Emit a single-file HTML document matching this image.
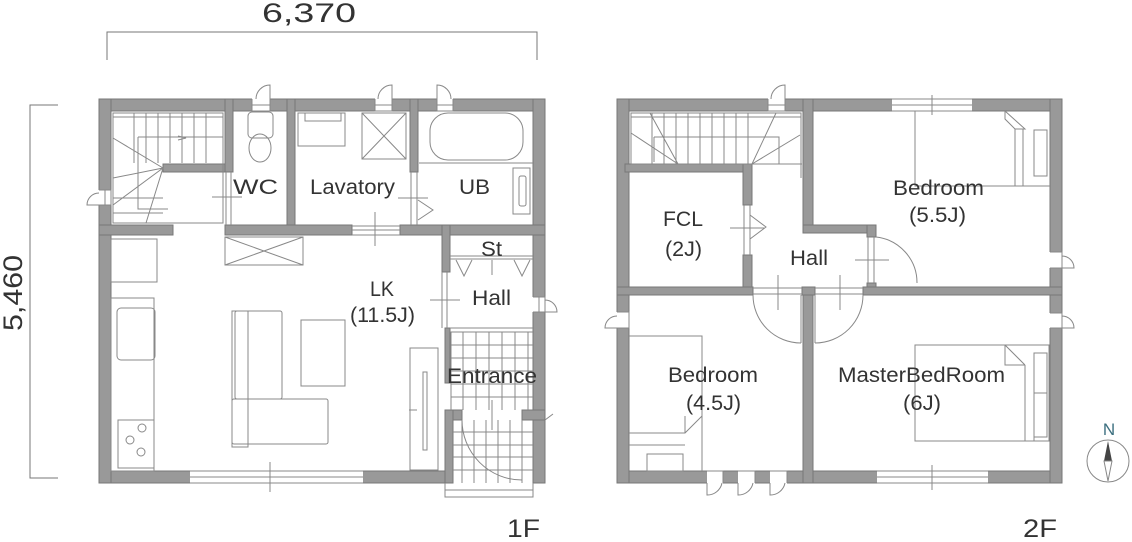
<!DOCTYPE html>
<html><head><meta charset="utf-8"><style>
html,body{margin:0;padding:0;background:#fff;}
svg{display:block;}
text{font-family:"Liberation Sans",sans-serif;fill:#333;}
</style></head><body>
<svg width="1132" height="542" viewBox="0 0 1132 542" xmlns="http://www.w3.org/2000/svg">
<g stroke="#777" stroke-width="1" fill="none">
  <polyline points="107,60 107,32 537,32 537,60"/>
  <polyline points="58,105 30,105 30,478 58,478"/>
</g>
<text x="262" y="22" font-size="27" textLength="94" lengthAdjust="spacingAndGlyphs">6,370</text>
<text x="0" y="0" font-size="27" textLength="76" lengthAdjust="spacingAndGlyphs" transform="translate(22 331) rotate(-90)">5,460</text>
<text x="507" y="537" font-size="25" textLength="33" lengthAdjust="spacingAndGlyphs">1F</text>
<text x="1023" y="537" font-size="25" textLength="34" lengthAdjust="spacingAndGlyphs">2F</text>

<!-- ========== 1F ========== -->
<g fill="#999" stroke="#777" stroke-width="1">
  <rect x="99" y="99" width="446" height="12"/>
  <rect x="99" y="471" width="354" height="12"/>
  <rect x="99" y="99" width="12" height="384"/>
  <rect x="533" y="99" width="12" height="384"/>
  <rect x="163" y="164" width="70" height="8"/>
  <rect x="225" y="99" width="8" height="73"/>
  <rect x="287" y="99" width="8" height="136"/>
  <rect x="410" y="99" width="8" height="73"/>
  <rect x="225" y="225" width="127" height="10"/>
  <rect x="400" y="225" width="145" height="10"/>
  <rect x="99" y="225" width="74" height="10"/>
  <rect x="442" y="225" width="8" height="47"/>
  <rect x="445" y="328" width="5" height="55"/>
  <rect x="445" y="410" width="17" height="10"/>
  <rect x="522" y="410" width="23" height="10"/>
  <rect x="445" y="410" width="8" height="73"/>
</g>
<g fill="#fff" stroke="none">
  <rect x="252" y="98" width="18" height="14"/>
  <rect x="375" y="98" width="17" height="14"/>
  <rect x="437" y="98" width="16" height="14"/>
  <rect x="98" y="190" width="14" height="15"/>
  <rect x="532" y="297" width="14" height="15"/>
  <rect x="190" y="470" width="173" height="14"/>
</g>
<g fill="none" stroke="#888" stroke-width="1">
  <path d="M252,99 v12 h18 v-12 M252,105 h18 M270,99 v-14 a14,14 0 0 0 -14,14"/>
  <path d="M375,99 v12 h17 v-12 M375,105 h17 M392,99 v-14 a14,14 0 0 0 -14,14"/>
  <path d="M437,99 v12 h16 v-12 M437,105 h16 M437,99 v-14 a14,14 0 0 1 14,14"/>
  <path d="M99,190 h12 v15 h-12 M105,190 v15 M99,205 h-12 a12,12 0 0 1 12,-12"/>
  <path d="M533,297 h12 v15 h-12 M539,297 v15 M545,312 h12 a12,12 0 0 0 -12,-12"/>
  <path d="M545,420 l8,-6"/>
  <path d="M190,471 h173 M190,477 h173 M190,483 h173"/>
  <path d="M352,226 h48 M352,230 h48 M352,235 h48"/>
  <path d="M226,172 v53 M231,172 v53 M411,172 v53 M417,172 v53 M442,272 v56 M447,272 v56"/>
  <rect x="113" y="113" width="110" height="110"/>
  <path d="M113,117 h110 M134,113 v50 M146,113 v50 M158,113 v50 M170,113 v50 M182,113 v50 M194,113 v50 M206,113 v50 M138,137 h85 M138,137 v72 h30 M113,138 L163,168 M113,178 L163,168 M113,205 L163,168 M146,223 L163,168 M113,198 h50 M113,213 h50 M178,136 l8,2 l-8,2"/>
  <rect x="248" y="112" width="25" height="26" rx="4"/>
  <ellipse cx="260" cy="148" rx="11" ry="14"/>
  <rect x="298" y="113" width="47" height="33"/>
  <path d="M305,113 v8 h36 v-8"/>
  <rect x="362" y="113" width="44" height="46"/>
  <path d="M362,113 L406,159 M406,113 L362,159"/>
  <rect x="430" y="113" width="93" height="47" rx="18"/>
  <path d="M419,163 h114"/>
  <rect x="513" y="168" width="17" height="46"/>
  <rect x="519" y="176" width="7" height="30" rx="2"/>
  <path d="M418,200 l15,10 l-15,10"/>
  <path d="M212,197 h30 M398,198 h30 M375,212 v34 M270,462 v30"/>
  <rect x="225" y="237" width="78" height="28"/>
  <path d="M225,237 L303,265 M303,237 L225,265"/>
  <rect x="111" y="239" width="46" height="43"/>
  <rect x="111" y="298" width="43" height="173"/>
  <rect x="117" y="308" width="38" height="52" rx="4"/>
  <rect x="118" y="420" width="36" height="48"/>
  <circle cx="142" cy="428" r="4"/><circle cx="130" cy="440" r="4"/><circle cx="141" cy="452" r="4"/>
  <rect x="232" y="311" width="16" height="136"/>
  <rect x="235" y="311" width="47" height="88" rx="2"/>
  <rect x="232" y="399" width="96" height="45" rx="2"/>
  <rect x="301" y="320" width="44" height="66"/>
  <rect x="410" y="348" width="28" height="122"/>
  <rect x="423" y="372" width="4" height="78"/>
  <path d="M417,410 h-8 M430,300 h30"/>
  <path d="M450,256 h83 M450,259 h83 M450,328 h83 M450,332 h83"/>
  <path d="M456,260 l8,16 l8,-16 M514,260 l8,16 l8,-16 M492,260 v15 M492,400 v30"/>
  <path d="M451,332 v78 M463,332 v78 M476,332 v78 M489,332 v78 M502,332 v78 M515,332 v78 M528,332 v78 M451,345 h82 M451,358 h82 M451,371 h82 M451,384 h82 M451,397 h82"/>
  <path d="M462,420 v63 M474,420 v63 M486,420 v63 M498,420 v63 M510,420 v63 M522,420 v63 M453,432 h80 M453,445 h80 M453,457 h80 M453,470 h80"/>
  <path d="M462,420 a60,60 0 0 0 60,60"/>
  <path d="M445,483 v14 h88 v-14 M445,490 h88"/>
</g>
<g font-size="21">
<text x="233" y="194" textLength="45" lengthAdjust="spacingAndGlyphs">WC</text>
<text x="310" y="194" textLength="85" lengthAdjust="spacingAndGlyphs">Lavatory</text>
<text x="459" y="194" textLength="31" lengthAdjust="spacingAndGlyphs">UB</text>
<text x="481" y="256" textLength="21" lengthAdjust="spacingAndGlyphs">St</text>
<text x="472" y="305" textLength="39" lengthAdjust="spacingAndGlyphs">Hall</text>
<text x="370" y="296" textLength="24" lengthAdjust="spacingAndGlyphs">LK</text>
<text x="350" y="322" textLength="65" lengthAdjust="spacingAndGlyphs">(11.5J)</text>
<text x="447" y="383" textLength="90" lengthAdjust="spacingAndGlyphs">Entrance</text>
</g>

<!-- ========== 2F ========== -->
<g fill="#999" stroke="#777" stroke-width="1">
  <rect x="617" y="99" width="445" height="12"/>
  <rect x="617" y="471" width="445" height="12"/>
  <rect x="617" y="99" width="12" height="384"/>
  <rect x="1050" y="99" width="12" height="384"/>
  <rect x="625" y="164" width="127" height="8"/>
  <rect x="743" y="164" width="9" height="41"/>
  <rect x="743" y="255" width="9" height="40"/>
  <rect x="803" y="99" width="10" height="134"/>
  <rect x="803" y="225" width="73" height="8"/>
  <rect x="867" y="225" width="9" height="12"/>
  <rect x="867" y="283" width="9" height="12"/>
  <rect x="617" y="287" width="136" height="8"/>
  <rect x="802" y="287" width="13" height="8"/>
  <rect x="863" y="287" width="199" height="8"/>
  <rect x="803" y="295" width="10" height="188"/>
</g>
<g fill="#fff" stroke="none">
  <rect x="768" y="98" width="17" height="14"/>
  <rect x="892" y="98" width="80" height="14"/>
  <rect x="877" y="470" width="111" height="14"/>
  <rect x="707" y="470" width="16" height="14"/>
  <rect x="738" y="470" width="17" height="14"/>
  <rect x="770" y="470" width="17" height="14"/>
  <rect x="1049" y="252" width="14" height="16"/>
  <rect x="1049" y="313" width="14" height="15"/>
  <rect x="616" y="312" width="14" height="16"/>
</g>
<g fill="none" stroke="#888" stroke-width="1">
  <path d="M768,99 v12 h17 v-12 M768,105 h17 M785,99 v-14 a14,14 0 0 0 -14,14"/>
  <path d="M892,99 h80 M892,105 h80 M892,111 h80 M932,95 v20"/>
  <path d="M877,471 h111 M877,477 h111 M877,483 h111 M932,465 v25"/>
  <path d="M707,483 v12 a15,15 0 0 0 15,-12 M707,471 h16 v12 M738,483 v12 a15,15 0 0 0 15,-12 M738,471 h17 v12 M770,483 v12 a15,15 0 0 0 15,-12 M770,471 h17 v12"/>
  <path d="M1050,252 h12 v16 h-12 M1062,268 h12 a12,12 0 0 0 -12,-12"/>
  <path d="M1050,313 h12 v15 h-12 M1062,328 h12 a12,12 0 0 0 -12,-12"/>
  <path d="M617,312 h12 v16 h-12 M617,328 h-12 a12,12 0 0 1 12,-12"/>
  <rect x="631" y="113" width="170" height="51"/>
  <path d="M631,117 h170 M652,113 v51 M664,113 v51 M676,113 v51 M688,113 v51 M700,113 v51 M712,113 v51 M724,113 v51 M736,113 v51 M748,113 v51 M654,137 h125 v27 M654,137 v25 M650,113 L678,164 M631,133 L678,164 M752,164 L800,135 M752,164 L776,113 M752,164 h50 M801,113 v65"/>
  <path d="M744,205 v50 M750,205 v50 M730,228 h34 M750,215 l16,12 l-16,12"/>
  <path d="M868,237 v46 M874,237 v46 M876,237 a46,46 0 0 1 41,46 M855,260 h34"/>
  <path d="M753,288 h49 M753,294 h49 M753,295 a48,48 0 0 0 48,48 M801,295 v48 M778,275 v35"/>
  <path d="M815,288 h48 M815,294 h48 M863,295 a48,48 0 0 1 -48,48 M815,295 v48 M840,275 v35"/>
  <path d="M915,111 v75 h135 M1005,111 v8 l10,10 v57 M1005,111 l20,18 h-10 M1015,129 v57 M1023,129 v57"/>
  <rect x="1034" y="130" width="13" height="46"/>
  <rect x="915" y="345" width="134" height="96"/>
  <path d="M1005,345 l20,20 M1005,345 v20 h20 M1025,365 v76 M1034,353 v88"/>
  <rect x="1034" y="353" width="13" height="84"/>
  <path d="M1034,393 h13"/>
  <path d="M629,336 h73 v135 M629,433 h56 l17,-17 M685,416 v17 M629,445 h56 M685,433 l17,-17"/>
  <rect x="647" y="454" width="36" height="17"/>
</g>
<g font-size="21">
<text x="663" y="226" textLength="40" lengthAdjust="spacingAndGlyphs">FCL</text>
<text x="665" y="256" textLength="37" lengthAdjust="spacingAndGlyphs">(2J)</text>
<text x="790" y="265" textLength="38" lengthAdjust="spacingAndGlyphs">Hall</text>
<text x="893" y="195" textLength="91" lengthAdjust="spacingAndGlyphs">Bedroom</text>
<text x="909" y="222" textLength="57" lengthAdjust="spacingAndGlyphs">(5.5J)</text>
<text x="668" y="382" textLength="90" lengthAdjust="spacingAndGlyphs">Bedroom</text>
<text x="686" y="410" textLength="55" lengthAdjust="spacingAndGlyphs">(4.5J)</text>
<text x="838" y="382" textLength="167" lengthAdjust="spacingAndGlyphs">MasterBedRoom</text>
<text x="903" y="410" textLength="38" lengthAdjust="spacingAndGlyphs">(6J)</text>
</g>

<text x="1109" y="435" font-size="17" text-anchor="middle" style="fill:#3d7080">N</text>
<circle cx="1108" cy="461" r="21" fill="none" stroke="#888"/>
<polygon points="1108,441 1112,461 1104,461" fill="#444"/>
<polygon points="1104,461 1112,461 1108,481" fill="none" stroke="#888"/>
</svg>
</body></html>
